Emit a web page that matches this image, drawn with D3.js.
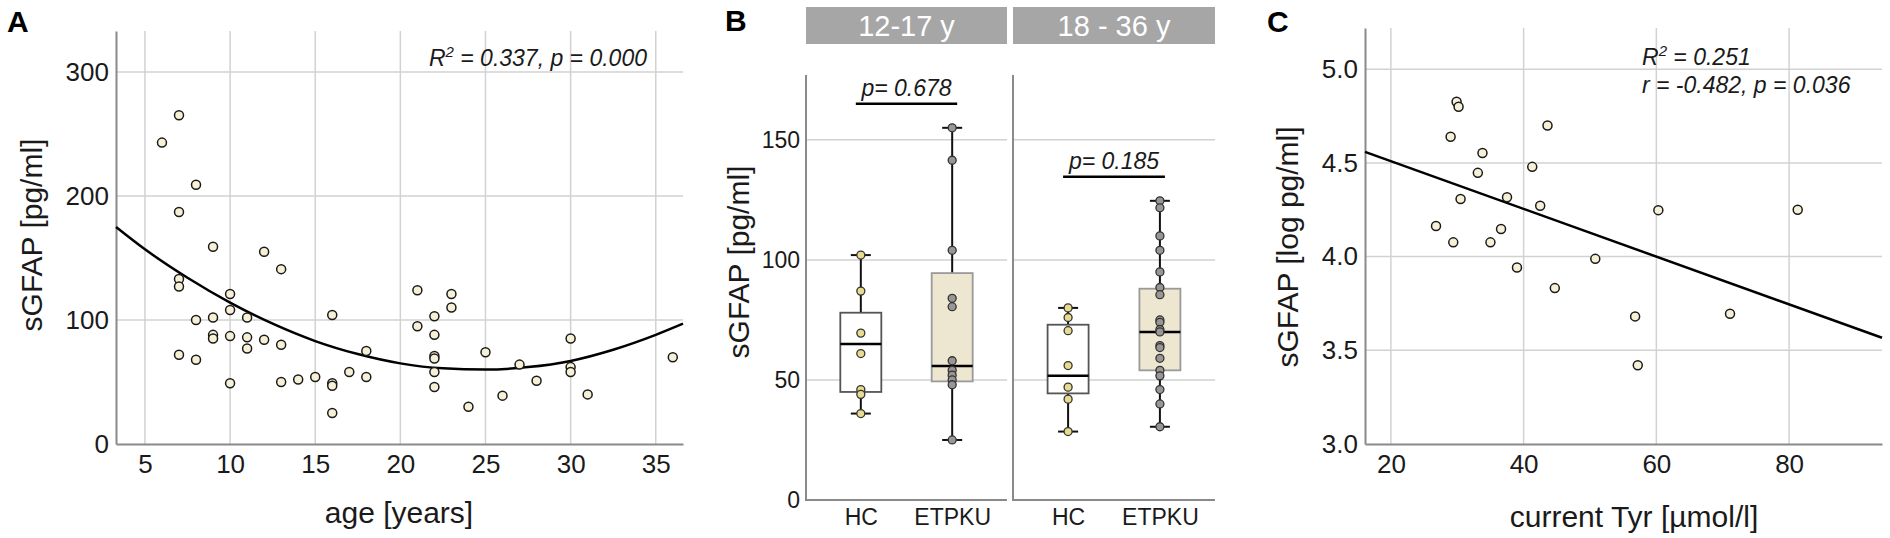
<!DOCTYPE html>
<html lang="en">
<head>
<meta charset="utf-8">
<title>sGFAP: age, group and Tyr</title>
<script src="https://cdn.jsdelivr.net/npm/d3@7"></script>
<style>
  body { margin: 0; background: #fff; }
  svg { display: block; font-family: "Liberation Sans", Arial, Helvetica, sans-serif; }
  .grid line { stroke: #d2d2d2; stroke-width: 1.5; }
  .axis path.domain, .frame { stroke: #8a8a8a; stroke-width: 2; fill: none; }
  .axis text { fill: #1a1a1a; }
  .panelLabel { font-weight: bold; font-size: 30px; fill: #000; }
  .title { font-size: 30px; fill: #1a1a1a; }
  .stat { font-size: 23px; font-style: italic; fill: #1a1a1a; }
  .dot { fill: #f6f0d6; stroke: #1a1a1a; stroke-width: 1.5; }
  .fit { fill: none; stroke: #000; stroke-width: 2.5; }
  .strip { fill: #a6a6a6; }
  .stripText { fill: #fff; font-size: 29px; }
  .whisker { stroke: #111; stroke-width: 2; }
  .median { stroke: #000; stroke-width: 2.5; }
  .pbar { stroke: #000; stroke-width: 2.5; }
</style>
</head>
<body>
<script>
// ---- A: age vs sGFAP ----
var ageYears = [6, 7,7,7,7,7, 8,8,8, 9,9,9,9, 10,10,10,10, 11,11,11, 12,12, 13,13,13, 14, 15,
                16,16,16,16, 17, 18,18, 21,21, 22,22,22,22,22,22, 23,23, 24, 25, 26, 27, 28, 30,30,30, 31, 36];
var ageGFAP  = [243, 265,187,133,127,72, 209,100,68, 159,102,88,85, 121,108,87,49, 102,86,77, 155,84, 141,80,50, 52, 54,
                104,49,47,25, 58, 75,54, 124,95, 103,88,71,69,58,46, 121,110, 30, 74, 39, 64, 51, 85,62,58, 40, 70];
// quadratic fit
var ageFitX = [3.3, 5, 7.5, 10, 12.5, 15, 17.5, 20, 22.5, 25, 27.5, 30, 32.5, 35, 36.6];
var ageFitY = [175, 157, 134, 114, 97, 83, 72.5, 65, 61, 60, 62, 67, 76, 88, 97];
var ageTicksX = [5, 10, 15, 20, 25, 30, 35];
var ageTicksY = [0, 100, 200, 300];

// ---- B: boxplots by age band ----
var ageBands = ["12-17 y", "18 - 36 y"];
var groups = ["HC", "ETPKU"];
var hcYoung    = [102, 87, 69.5, 61, 46, 44, 36];
var etpkuYoung = [155, 141.5, 104, 84, 80.5, 58, 54, 52, 50, 48, 25];
var hcOld      = [80, 76, 70.5, 56, 47, 42, 28.5];
var etpkuOld   = [124.6, 121.7, 110, 104, 95, 88.5, 85.5, 75, 74, 71, 70, 64.3, 63.5, 59, 54, 51.7, 46, 40, 30.5];
// [whisker low, Q1, median, Q3, whisker high]
var boxHCYoung    = [36, 45, 65, 78, 102];
var boxETPKUYoung = [25, 49.4, 55.8, 94.5, 155];
var boxHCOld      = [28.5, 44.4, 51.7, 73, 80];
var boxETPKUOld   = [30.5, 54, 70, 88, 124.6];
var pLabels = ["p= 0.678", "p= 0.185"];
var pBarAt  = [165, 134.6];
var boxTicksY = [0, 50, 100, 150];

// ---- C: current Tyr vs log sGFAP ----
var tyrValues = [29.9, 30.2, 29.0, 43.6, 33.8, 41.3, 33.1, 37.5, 30.5, 42.5, 26.8, 36.6, 29.4, 35.0,
                 39.0, 44.7, 50.8, 60.3, 81.3, 56.8, 71.1, 57.2];
var logGFAP   = [4.826, 4.80, 4.64, 4.70, 4.553, 4.479, 4.447, 4.317, 4.307, 4.271, 4.163, 4.147, 4.076, 4.076,
                 3.942, 3.832, 3.988, 4.248, 4.250, 3.681, 3.695, 3.42];
var tyrFitX = [16.1, 94];
var tyrFitY = [4.559, 3.567];
var tyrTicksX = [20, 40, 60, 80];
var logTicksY = [3.0, 3.5, 4.0, 4.5, 5.0];

var w = 1890, h = 538;
var svg = d3.select("body").append("svg").attr("width", w).attr("height", h);

function styleAxis(g, size) {
    g.attr("class", "axis").attr("font-size", size).attr("font-family", null);
}

function grid(x, y, xTicks, yTicks) {
    var g = svg.append("g").attr("class", "grid");
    var xr = x.range(), yr = y.range();
    g.selectAll(".gx").data(xTicks).enter().append("line")
        .attr("x1", function(d) { return x(d); }).attr("x2", function(d) { return x(d); })
        .attr("y1", yr[0]).attr("y2", yr[1]);
    g.selectAll(".gy").data(yTicks).enter().append("line")
        .attr("x1", xr[0]).attr("x2", xr[1])
        .attr("y1", function(d) { return y(d); }).attr("y2", function(d) { return y(d); });
}

function axes(x, y, xTicks, yTicks, yFormat) {
    svg.append("g")
        .attr("transform", "translate(0," + y.range()[0] + ")")
        .call(d3.axisBottom(x).tickValues(xTicks).tickSize(0).tickSizeOuter(0).tickPadding(11))
        .call(styleAxis, 26);
    svg.append("g")
        .attr("transform", "translate(" + x.range()[0] + ",0)")
        .call(d3.axisLeft(y).tickValues(yTicks).tickSize(0).tickSizeOuter(0).tickPadding(7)
              .tickFormat(yFormat || d3.format("d")))
        .call(styleAxis, 26);
}

function rotTitle(text, x, y) {
    svg.append("text").attr("class", "title")
        .attr("transform", "translate(" + x + "," + y + ") rotate(-90)")
        .attr("text-anchor", "middle").text(text);
}

function statText(x, y, anchor, lines) {
    lines.forEach(function(l, i) {
        var t = svg.append("text").attr("class", "stat").attr("x", x).attr("y", y + i * 28)
            .attr("text-anchor", anchor);
        if (l.sup) {
            t.append("tspan").text("R");
            t.append("tspan").attr("font-size", 15).attr("dy", -9).text("2");
            t.append("tspan").attr("dy", 9).text(l.text);
        } else {
            t.text(l.text);
        }
    });
}

// ================= Panel A =================
var xA = d3.scaleLinear().domain([3.3, 36.6]).range([116, 683]);
var yA = d3.scaleLinear().domain([0, 333]).range([444, 31]);
grid(xA, yA, ageTicksX, ageTicksY.slice(1));
axes(xA, yA, ageTicksX, ageTicksY);

var fitLineA = d3.line().curve(d3.curveMonotoneX)
    .x(function(d, i) { return xA(ageFitX[i]); })
    .y(function(d) { return yA(d); });
svg.append("path").datum(ageFitY).attr("class", "fit").attr("d", fitLineA);

svg.append("g").selectAll("circle").data(ageGFAP).enter().append("circle")
    .attr("class", "dot")
    .attr("cx", function(d, i) { return xA(ageYears[i]); })
    .attr("cy", function(d) { return yA(d); })
    .attr("r", 4.5);

statText(647, 66, "end", [{ sup: true, text: " = 0.337, p = 0.000" }]);
svg.append("text").attr("class", "panelLabel").attr("x", 7).attr("y", 32).text("A");
svg.append("text").attr("class", "title").attr("x", 399).attr("y", 523)
    .attr("text-anchor", "middle").text("age [years]");
rotTitle("sGFAP [pg/ml]", 42, 235);

// ================= Panel B =================
var yB = d3.scaleLinear().domain([0, 177]).range([500, 75]);
var facetX = [[806, 1007], [1013, 1215]];
var pointsB = [[hcYoung, etpkuYoung], [hcOld, etpkuOld]];
var boxesB = [[boxHCYoung, boxETPKUYoung], [boxHCOld, boxETPKUOld]];

ageBands.forEach(function(band, f) {
    var x = d3.scalePoint().domain(groups).range(facetX[f]).padding(0.6);
    var g = svg.append("g");

    // strip header
    g.append("rect").attr("class", "strip")
        .attr("x", facetX[f][0]).attr("y", 7)
        .attr("width", facetX[f][1] - facetX[f][0]).attr("height", 37);
    g.append("text").attr("class", "stripText")
        .attr("x", (facetX[f][0] + facetX[f][1]) / 2).attr("y", 36)
        .attr("text-anchor", "middle").text(band);

    // grid
    g.append("g").attr("class", "grid").selectAll("line").data(boxTicksY.slice(1)).enter().append("line")
        .attr("x1", facetX[f][0]).attr("x2", facetX[f][1])
        .attr("y1", function(d) { return yB(d); }).attr("y2", function(d) { return yB(d); });

    // frame (left + bottom)
    g.append("path").attr("class", "frame")
        .attr("d", "M" + facetX[f][0] + "," + yB.range()[1] + "V" + yB(0) + "H" + facetX[f][1]);

    // boxes
    groups.forEach(function(grp, k) {
        var s = boxesB[f][k], cx = x(grp), bw = 41, cap = 20;
        g.append("line").attr("class", "whisker")
            .attr("x1", cx).attr("x2", cx).attr("y1", yB(s[0])).attr("y2", yB(s[4]));
        [s[0], s[4]].forEach(function(v) {
            g.append("line").attr("class", "whisker")
                .attr("x1", cx - cap / 2).attr("x2", cx + cap / 2)
                .attr("y1", yB(v)).attr("y2", yB(v));
        });
        g.append("rect")
            .attr("x", cx - bw / 2).attr("y", yB(s[3]))
            .attr("width", bw).attr("height", yB(s[1]) - yB(s[3]))
            .attr("fill", k === 0 ? "#ffffff" : "#ede6d0")
            .attr("stroke", k === 0 ? "#555" : "#9a9a9a").attr("stroke-width", 1.8);
        g.append("line").attr("class", "median")
            .attr("x1", cx - bw / 2).attr("x2", cx + bw / 2)
            .attr("y1", yB(s[2])).attr("y2", yB(s[2]));
        g.selectAll(".pt" + k).data(pointsB[f][k]).enter().append("circle")
            .attr("cx", cx).attr("cy", function(d) { return yB(d); }).attr("r", 4)
            .attr("fill", k === 0 ? "#e6db8e" : "#9b9696")
            .attr("stroke", "#333").attr("stroke-width", 1.3);
    });

    // p-value bar
    var x0 = x(groups[0]) - 5, x1 = x(groups[1]) + 5;
    g.append("line").attr("class", "pbar")
        .attr("x1", x0).attr("x2", x1).attr("y1", yB(pBarAt[f])).attr("y2", yB(pBarAt[f]));
    g.append("text").attr("class", "stat")
        .attr("x", (x0 + x1) / 2).attr("y", yB(pBarAt[f]) - 8)
        .attr("text-anchor", "middle").text(pLabels[f]);

    // category axis labels
    g.append("g").attr("transform", "translate(0," + yB(0) + ")")
        .call(d3.axisBottom(x).tickSize(0).tickPadding(9))
        .call(styleAxis, 23)
        .select(".domain").remove();
});

svg.append("g").attr("transform", "translate(806,0)")
    .call(d3.axisLeft(yB).tickValues(boxTicksY).tickSize(0).tickPadding(6))
    .call(styleAxis, 23)
    .select(".domain").remove();
svg.append("text").attr("class", "panelLabel").attr("x", 725).attr("y", 31).text("B");
rotTitle("sGFAP [pg/ml]", 749, 262);

// ================= Panel C =================
var xC = d3.scaleLinear().domain([16.1, 94]).range([1365, 1882]);
var yC = d3.scaleLinear().domain([3.0, 5.22]).range([444, 28]);
grid(xC, yC, tyrTicksX, logTicksY.slice(1));
axes(xC, yC, tyrTicksX, logTicksY, d3.format(".1f"));

svg.append("path").datum(tyrFitY).attr("class", "fit")
    .attr("d", d3.line()
        .x(function(d, i) { return xC(tyrFitX[i]); })
        .y(function(d) { return yC(d); }));

svg.append("g").selectAll("circle").data(logGFAP).enter().append("circle")
    .attr("class", "dot")
    .attr("cx", function(d, i) { return xC(tyrValues[i]); })
    .attr("cy", function(d) { return yC(d); })
    .attr("r", 4.5);

statText(1642, 65, "start", [{ sup: true, text: " = 0.251" }, { text: "r = -0.482, p = 0.036" }]);
svg.append("text").attr("class", "panelLabel").attr("x", 1267).attr("y", 32).text("C");
svg.append("text").attr("class", "title").attr("x", 1634).attr("y", 527)
    .attr("text-anchor", "middle").text("current Tyr [µmol/l]");
rotTitle("sGFAP [log pg/ml]", 1298, 247);
</script>
</body>
</html>
